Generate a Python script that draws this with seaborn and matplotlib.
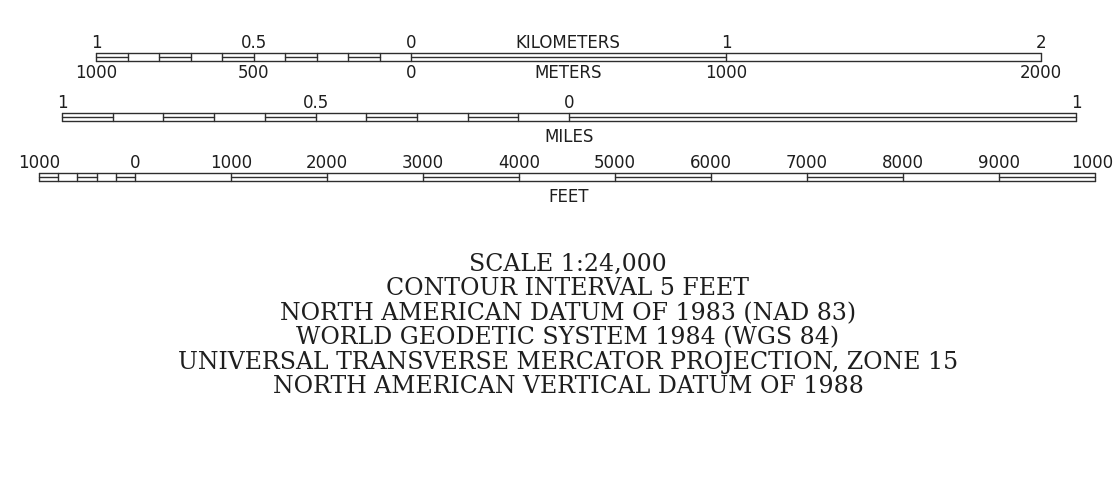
import matplotlib.pyplot as plt
import pandas as pd
import seaborn as sns

KM_PER_MILE = 1.609344
KM_PER_FOOT = 0.0003048

# kilometre / metre bar
km_edges = [-1, -0.9, -0.8, -0.7, -0.6, -0.5, -0.4, -0.3, -0.2, -0.1, 0, 1, 2]
km_ticks = [-1, -0.5, 0, 1, 2]
km_labels = ["1", "0.5", "0", "1", "2"]
m_ticks = [-1000, -500, 0, 1000, 2000]
m_labels = ["1000", "500", "0", "1000", "2000"]

# mile bar
mile_edges = [-1, -0.9, -0.8, -0.7, -0.6, -0.5, -0.4, -0.3, -0.2, -0.1, 0, 1]
mile_ticks = [-1, -0.5, 0, 1]
mile_labels = ["1", "0.5", "0", "1"]

# feet bar
ft_edges = [-1000, -800, -600, -400, -200, 0, 1000, 2000, 3000, 4000, 5000,
            6000, 7000, 8000, 9000, 10000]
ft_ticks = [-1000, 0, 1000, 2000, 3000, 4000, 5000, 6000, 7000, 8000, 9000, 10000]
ft_labels = ["1000", "0", "1000", "2000", "3000", "4000", "5000", "6000",
             "7000", "8000", "9000", "1000"]

notes = [
    "SCALE 1:24,000",
    "CONTOUR INTERVAL 5 FEET",
    "NORTH AMERICAN DATUM OF 1983 (NAD 83)",
    "WORLD GEODETIC SYSTEM 1984 (WGS 84)",
    "UNIVERSAL TRANSVERSE MERCATOR PROJECTION, ZONE 15",
    "NORTH AMERICAN VERTICAL DATUM OF 1988",
]

# layout: x axis in km, 0 km at pixel 411, 315 px per km; y axis in pixel rows
PX_PER_KM = 315.0
X0 = 411.0
W, H = 1114, 490


def px(v):
    return (v - X0) / PX_PER_KM


LINE = "#2e2e2e"
TXT = "#1e1e1e"

sns.set_theme(style="white")
plt.rcParams["font.family"] = ["DejaVu Sans"]

fig = plt.figure(figsize=(W / 100, H / 100), dpi=100)
ax = fig.add_axes([0, 0, 1, 1])
ax.set_xlim(px(0), px(W))
ax.set_ylim(H, 0)
ax.axis("off")

bars = [
    # edges, scale to km, offset (km), top, bottom
    (km_edges, 1.0, 0.0, 53.5, 61.5),
    (mile_edges, KM_PER_MILE, px(569), 113.5, 121.5),
    (ft_edges, KM_PER_FOOT, px(135), 173.5, 181.5),
]

rows = []
uid = 0
for edges, scale, off, top, bot in bars:
    xs = [off + e * scale for e in edges]
    mid = (top + bot) / 2
    for y in (top, bot):
        rows += [(xs[0], y, uid), (xs[-1], y, uid)]
        uid += 1
    for x in xs:
        rows += [(x, top, uid), (x, bot, uid)]
        uid += 1
    for i in range(0, len(xs) - 1, 2):
        rows += [(xs[i], mid, uid), (xs[i + 1], mid, uid)]
        uid += 1

lines = pd.DataFrame(rows, columns=["x", "y", "seg"])
sns.lineplot(data=lines, x="x", y="y", units="seg", estimator=None,
             color=LINE, linewidth=1.0, sort=False, ax=ax, legend=False)

lab = dict(fontsize=12, color=TXT, ha="center", va="baseline")
for t, s in zip(km_ticks, km_labels):
    ax.text(t, 47.5, s, **lab)
for t, s in zip(m_ticks, m_labels):
    ax.text(t / 1000, 78, s, **lab)
for t, s in zip(mile_ticks, mile_labels):
    ax.text(px(569) + t * KM_PER_MILE, 108, s, **lab)
for t, s in zip(ft_ticks[:-1], ft_labels[:-1]):
    ax.text(px(135) + t * KM_PER_FOOT, 168, s, **lab)
# last feet label sits against the right edge
ax.text(px(W - 1), 168, ft_labels[-1], **{**lab, "ha": "right"})

ax.text(px(568), 47.5, "KILOMETERS", **lab)
ax.text(px(568), 78, "METERS", **lab)
ax.text(px(569), 142, "MILES", **lab)
ax.text(px(569), 202, "FEET", **lab)

for i, s in enumerate(notes):
    ax.text(px(568), 271 + i * 24.4, s, fontsize=17, color=TXT,
            family="DejaVu Serif", ha="center", va="baseline")

fig.savefig("out.png", dpi=100, facecolor="white")
